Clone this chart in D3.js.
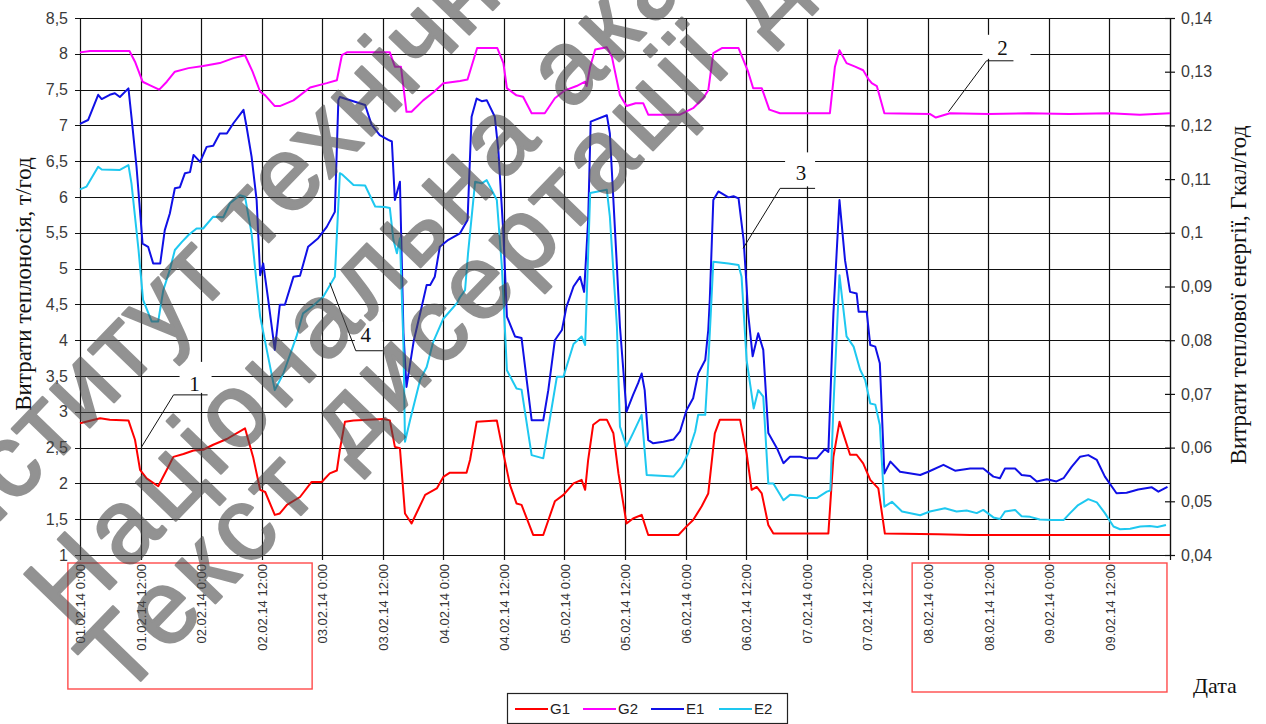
<!DOCTYPE html>
<html>
<head>
<meta charset="utf-8">
<script src="https://cdn.jsdelivr.net/npm/d3@7"></script>
<style>
  html, body { margin: 0; padding: 0; background: #fff; }
  svg { display: block; }
</style>
</head>
<body>
<script>
// Hourly readings, hour = hours since 01.02.14 0:00
// G1, G2 — coolant flow, т/год (left axis); E1, E2 — heat energy, Гкал/год (right axis)
const g1Data = [[0,2.84],[4.0,2.91],[5.9,2.89],[9.6,2.88],[10.9,2.61],[11.9,2.19],[13.2,2.07],[15.5,1.96],[17.2,2.19],[18.5,2.37],[20.5,2.41],[22.5,2.46],[24.4,2.47],[26.4,2.54],[29.1,2.62],[32.7,2.77],[34.3,2.37],[35.7,1.91],[36.7,1.88],[38.6,1.56],[39.6,1.58],[41.0,1.70],[43.6,1.81],[45.9,2.02],[47.9,2.02],[49.5,2.14],[50.9,2.18],[51.5,2.47],[52.5,2.86],[54.2,2.88],[60.1,2.90],[61.4,2.88],[62.4,2.51],[63.4,2.49],[64.4,1.58],[65.7,1.44],[68.4,1.84],[70.7,1.93],[72.0,2.09],[73.3,2.15],[76.6,2.15],[77.3,2.33],[78.6,2.86],[82.6,2.88],[83.9,2.42],[85.2,1.98],[86.5,1.72],[87.5,1.70],[89.8,1.28],[91.8,1.28],[94.1,1.75],[95.8,1.84],[97.8,2.00],[99.4,2.05],[100.1,1.91],[100.7,2.33],[101.7,2.82],[103.0,2.89],[104.4,2.89],[105.7,2.70],[106.7,2.14],[108.3,1.44],[109.6,1.51],[111.3,1.56],[112.6,1.28],[118.6,1.28],[120.2,1.40],[121.5,1.49],[123.2,1.68],[124.5,1.86],[125.8,2.70],[126.8,2.89],[130.8,2.89],[132.1,2.42],[133.1,1.91],[134.1,1.95],[135.1,1.86],[136.4,1.42],[137.4,1.30],[148.3,1.30],[149.3,2.37],[150.5,2.86],[152.6,2.40],[153.9,2.40],[155.2,2.28],[156.6,2.05],[158.2,1.93],[159.5,1.30],[170,1.29],[176.4,1.28],[216,1.28]];

const g2Data = [[0,8.02],[2.0,8.04],[9.8,8.04],[10.9,7.89],[12.4,7.61],[13.9,7.56],[15.7,7.50],[17.2,7.61],[18.8,7.75],[21.5,7.80],[24.4,7.83],[27.7,7.87],[30.4,7.94],[32.7,7.98],[34.2,7.75],[35.7,7.47],[36.7,7.42],[38.6,7.27],[39.6,7.27],[42.3,7.35],[45.6,7.53],[48.9,7.59],[50.9,7.63],[51.9,7.98],[52.9,8.02],[61.4,8.02],[62.4,7.82],[63.6,7.82],[64.7,7.19],[65.7,7.19],[68.0,7.35],[70.0,7.46],[72.0,7.59],[75.3,7.62],[76.8,7.64],[78.7,8.08],[82.7,8.08],[83.9,7.87],[84.6,7.52],[86.5,7.42],[87.8,7.40],[89.5,7.17],[92.1,7.17],[94.1,7.38],[96.1,7.49],[98.4,7.55],[100.1,7.61],[100.4,7.55],[101.1,7.82],[102.1,8.06],[104.4,8.09],[105.4,7.96],[107.0,7.42],[108.3,7.27],[110.1,7.31],[111.6,7.31],[112.6,7.15],[118.9,7.15],[121.5,7.24],[123.5,7.38],[124.5,7.49],[125.5,8.01],[127.2,8.08],[130.5,8.08],[132.4,7.75],[133.4,7.52],[135.1,7.52],[136.6,7.22],[138.7,7.17],[148.6,7.17],[149.6,7.82],[150.5,8.05],[151.9,7.87],[153.6,7.82],[155.2,7.77],[156.2,7.65],[156.9,7.59],[157.9,7.55],[159.4,7.17],[168.4,7.16],[169.6,7.11],[172.4,7.17],[180,7.16],[188,7.17],[196,7.16],[204,7.17],[210,7.15],[216,7.17]];

const e1Data = [[0,0.1203],[1.6,0.1210],[3.6,0.1257],[4.3,0.1249],[5.9,0.1257],[6.9,0.1260],[7.9,0.1253],[9.6,0.1269],[10.2,0.1216],[11.2,0.1123],[12.4,0.0980],[13.5,0.0974],[14.5,0.0943],[15.9,0.0943],[16.8,0.1005],[17.8,0.1036],[18.8,0.1083],[19.8,0.1085],[20.8,0.1111],[21.8,0.1113],[22.5,0.1145],[23.8,0.1132],[25.1,0.1160],[26.4,0.1162],[27.7,0.1185],[29.1,0.1185],[30.4,0.1204],[32.4,0.1229],[33.0,0.1198],[34.0,0.1142],[35.0,0.1061],[35.7,0.0921],[36.3,0.0943],[37.3,0.0875],[38.6,0.0782],[39.6,0.0866],[40.6,0.0866],[42.3,0.0918],[43.6,0.0920],[45.2,0.0974],[47.2,0.0990],[48.9,0.1011],[50.5,0.1039],[51.2,0.1247],[51.5,0.1253],[56.5,0.1238],[57.8,0.1201],[59.4,0.1182],[61.1,0.1173],[61.8,0.1170],[62.4,0.1061],[63.4,0.1095],[64.1,0.0813],[64.7,0.0713],[66.1,0.0797],[67.7,0.0862],[68.7,0.0903],[69.4,0.0903],[70.3,0.0918],[71.3,0.0974],[73.0,0.0987],[75.3,0.0999],[76.8,0.1024],[77.6,0.1216],[78.6,0.1250],[79.6,0.1245],[80.6,0.1247],[82.2,0.1216],[82.9,0.1154],[83.9,0.0999],[84.6,0.0844],[86.2,0.0807],[87.5,0.0804],[89.5,0.0651],[91.8,0.0651],[92.8,0.0707],[94.1,0.0800],[95.5,0.0819],[96.4,0.0862],[97.8,0.0900],[99.1,0.0918],[99.9,0.0890],[100.7,0.1024],[101.2,0.1207],[104.4,0.1219],[105.0,0.1185],[105.7,0.1061],[106.4,0.0937],[107.0,0.0825],[108.3,0.0667],[109.6,0.0698],[110.6,0.0720],[111.3,0.0738],[111.9,0.0707],[112.6,0.0614],[113.6,0.0608],[115.6,0.0611],[117.6,0.0615],[118.9,0.0630],[120.2,0.0670],[121.5,0.0692],[122.5,0.0738],[123.9,0.0763],[124.5,0.0819],[124.8,0.0875],[125.5,0.1061],[126.5,0.1077],[128.5,0.1066],[129.5,0.1068],[130.5,0.1064],[131.5,0.0987],[132.1,0.0900],[132.4,0.0850],[133.3,0.0770],[134.4,0.0813],[135.4,0.0782],[136.4,0.0627],[138.1,0.0599],[139.4,0.0571],[140.7,0.0583],[142.7,0.0583],[144.0,0.0580],[146.0,0.0580],[147.6,0.0597],[148.3,0.0592],[149.3,0.0850],[150.5,0.1061],[151.6,0.0949],[152.6,0.0890],[153.9,0.0887],[154.3,0.0853],[155.9,0.0853],[156.6,0.0791],[157.6,0.0788],[158.5,0.0757],[159.4,0.0552],[160.6,0.0574],[162.5,0.0555],[166.5,0.0549],[168.1,0.0555],[171.1,0.0568],[173.4,0.0557],[176.4,0.0561],[179.0,0.0561],[181.0,0.0546],[182.3,0.0543],[183.3,0.0561],[185.3,0.0561],[186.6,0.0549],[188.3,0.0547],[189.6,0.0537],[191.6,0.0541],[193.5,0.0537],[194.9,0.0543],[196.5,0.0564],[198.2,0.0583],[199.8,0.0586],[201.5,0.0577],[203.1,0.0546],[205.4,0.0515],[207.4,0.0516],[209.7,0.0522],[212.4,0.0526],[213.7,0.0518],[215.5,0.0527]];

const e2Data = [[0,0.1081],[1.3,0.1086],[3.6,0.1123],[4.3,0.1118],[7.9,0.1117],[9.6,0.1126],[10.2,0.1092],[11.6,0.0968],[12.5,0.0875],[14.2,0.0835],[15.5,0.0835],[16.5,0.0893],[17.8,0.0931],[18.8,0.0968],[20.2,0.0983],[21.5,0.0996],[23.1,0.1008],[24.4,0.1008],[26.4,0.1030],[28.4,0.1029],[29.7,0.1055],[31.7,0.1070],[32.7,0.1067],[34.0,0.0999],[35.0,0.0906],[35.7,0.0844],[38.6,0.0707],[40.3,0.0738],[42.9,0.0807],[44.2,0.0850],[45.9,0.0862],[48.2,0.0881],[50.5,0.0918],[51.5,0.1111],[51.9,0.1109],[54.2,0.1089],[56.5,0.1088],[58.5,0.1049],[60.4,0.1048],[61.4,0.1046],[62.1,0.0987],[62.8,0.0962],[63.4,0.0990],[64.1,0.0790],[64.4,0.0611],[65.4,0.0651],[67.4,0.0726],[68.7,0.0750],[70.0,0.0797],[72.0,0.0840],[74.7,0.0869],[75.3,0.0880],[76.3,0.0893],[76.9,0.0962],[78.3,0.1095],[79.6,0.1092],[80.6,0.1098],[82.6,0.1061],[83.6,0.0937],[84.6,0.0744],[86.5,0.0710],[87.5,0.0708],[89.5,0.0586],[91.8,0.0580],[94.5,0.0732],[95.8,0.0732],[97.8,0.0793],[99.4,0.0807],[100.1,0.0791],[101.1,0.1074],[104.4,0.1080],[105.0,0.1030],[106.4,0.0825],[107.0,0.0639],[108.3,0.0602],[109.6,0.0627],[111.3,0.0661],[112.3,0.0549],[117.6,0.0546],[119.2,0.0564],[120.5,0.0589],[121.9,0.0630],[122.5,0.0661],[123.9,0.0661],[124.5,0.0757],[125.0,0.0850],[125.5,0.0946],[128.5,0.0943],[130.5,0.0940],[131.1,0.0918],[132.1,0.0763],[133.5,0.0673],[134.4,0.0707],[135.4,0.0695],[136.4,0.0533],[137.4,0.0533],[139.4,0.0502],[140.7,0.0512],[142.7,0.0511],[144.3,0.0506],[146.0,0.0506],[148.0,0.0518],[148.7,0.0520],[149.3,0.0676],[150.5,0.0921],[151.9,0.0807],[153.3,0.0788],[154.6,0.0745],[155.6,0.0726],[156.6,0.0682],[157.6,0.0680],[158.5,0.0642],[159.4,0.0490],[160.9,0.0499],[162.9,0.0481],[166.5,0.0474],[168.4,0.0481],[171.4,0.0487],[173.7,0.0481],[175.7,0.0483],[177.7,0.0478],[179.0,0.0484],[181.0,0.0470],[182.3,0.0467],[183.3,0.0481],[185.3,0.0484],[186.6,0.0472],[188.3,0.0471],[190.2,0.0466],[192.6,0.0465],[194.9,0.0465],[196.2,0.0478],[197.8,0.0493],[199.8,0.0504],[201.5,0.0498],[203.1,0.0478],[204.8,0.0453],[206.1,0.0448],[208.1,0.0449],[210.1,0.0453],[212.0,0.0454],[213.5,0.0452],[215.2,0.0456]];

// Axis ticks and labels
const hourTicks = [0,12,24,36,48,60,72,84,96,108,120,132,144,156,168,180,192,204,216];
const dateLabels = ["01.02.14 0:00","01.02.14 12:00","02.02.14 0:00","02.02.14 12:00","03.02.14 0:00","03.02.14 12:00","04.02.14 0:00","04.02.14 12:00","05.02.14 0:00","05.02.14 12:00","06.02.14 0:00","06.02.14 12:00","07.02.14 0:00","07.02.14 12:00","08.02.14 0:00","08.02.14 12:00","09.02.14 0:00","09.02.14 12:00"];
const flowTicks = [1,1.5,2,2.5,3,3.5,4,4.5,5,5.5,6,6.5,7,7.5,8,8.5];
const energyTicks = [0.04,0.05,0.06,0.07,0.08,0.09,0.1,0.11,0.12,0.13,0.14];

const seriesNames = ["G1","G2","E1","E2"];
const seriesColors = ["#ff0000","#ff00ff","#1010e6","#1ec8f0"];

// Numbered callouts: series, hour and value the leader points to
const callouts = [
  {label:"1", series:0, hour:12.2, value:2.51},
  {label:"2", series:1, hour:172.1, value:7.19},
  {label:"3", series:2, hour:131.4, value:0.0971},
  {label:"4", series:3, hour:49.5, value:0.0907}
];

const watermarkLines = [
  "Інститут технічної теплофізики НАН України",
  "Національна академія наук України",
  "Текст дисертації для ознайомлення"
];

const W = 1266, H = 724;
const margin = {left: 80, right: 96, top: 18, bottom: 169};
const plotW = W - margin.left - margin.right;   // 1090
const plotH = H - margin.top - margin.bottom;   // 537

const x = d3.scaleLinear().domain([0, 216]).range([margin.left, margin.left + plotW]);
const yL = d3.scaleLinear().domain([1, 8.5]).range([margin.top + plotH, margin.top]);
const yR = d3.scaleLinear().domain([0.04, 0.14]).range([margin.top + plotH, margin.top]);
const fmt = d => String(+d.toFixed(3)).replace(".", ",");

const svg = d3.select("body").append("svg").attr("width", W).attr("height", H);

// Grid
const grid = svg.append("g").attr("stroke", "#111").attr("stroke-width", 1.2);
grid.selectAll("line.h").data(flowTicks).join("line")
  .attr("x1", margin.left - 5).attr("x2", margin.left + plotW)
  .attr("y1", d => Math.round(yL(d)) + 0.5).attr("y2", d => Math.round(yL(d)) + 0.5);
grid.selectAll("line.v").data(hourTicks).join("line")
  .attr("x1", d => Math.round(x(d)) + 0.5).attr("x2", d => Math.round(x(d)) + 0.5)
  .attr("y1", margin.top).attr("y2", margin.top + plotH + 5);

// Left axis labels
const leftAxis = svg.append("g").attr("transform", `translate(${margin.left},0)`)
  .call(d3.axisLeft(yL).tickValues(flowTicks).tickFormat(fmt).tickSize(5).tickPadding(7));
leftAxis.select(".domain").remove();
leftAxis.selectAll("line").remove();
leftAxis.selectAll("text").attr("font-family", "Liberation Sans, Arial, sans-serif")
  .attr("font-size", 16).attr("fill", "#3a3a3a");

// Right axis with ticks crossing the line
const rightAxis = svg.append("g").attr("transform", `translate(${margin.left + plotW},0)`)
  .call(d3.axisRight(yR).tickValues(energyTicks).tickFormat(fmt).tickSize(5).tickSizeOuter(0).tickPadding(6));
rightAxis.select(".domain").attr("stroke", "#111").attr("stroke-width", 1.2);
rightAxis.selectAll(".tick line").attr("x1", -5).attr("stroke", "#111").attr("stroke-width", 1.2);
rightAxis.selectAll("text").attr("font-family", "Liberation Sans, Arial, sans-serif")
  .attr("font-size", 16).attr("fill", "#3a3a3a");

// Bottom axis with vertical date labels
const bottomAxis = svg.append("g").attr("transform", `translate(0,${margin.top + plotH})`)
  .call(d3.axisBottom(x).tickValues(hourTicks).tickSize(0).tickFormat((d, i) => dateLabels[i] || ""));
bottomAxis.select(".domain").remove();
bottomAxis.selectAll("text")
  .attr("transform", "rotate(-90)")
  .attr("x", -9).attr("y", 0).attr("dy", "0.36em")
  .attr("text-anchor", "end")
  .attr("font-family", "Liberation Sans, Arial, sans-serif")
  .attr("font-size", 13).attr("fill", "#333");

// Red frames around the first and last date labels
const frames = svg.append("g").attr("fill", "none").attr("stroke", "#ff4a4a").attr("stroke-width", 1.4);
frames.append("rect").attr("x", x(-2.4)).attr("y", 563).attr("width", x(46.0) - x(-2.4)).attr("height", 126);
frames.append("rect").attr("x", x(164.9)).attr("y", 563).attr("width", x(215.4) - x(164.9)).attr("height", 129);

// Series lines
const lineL = d3.line().x(d => x(d[0])).y(d => yL(d[1]));
const lineR = d3.line().x(d => x(d[0])).y(d => yR(d[1]));
const seriesData = [g1Data, g2Data, e1Data, e2Data];
const seriesLine = [lineL, lineL, lineR, lineR];
const plot = svg.append("g");
seriesData.forEach((data, i) => {
  plot.append("path").datum(data)
    .attr("fill", "none").attr("stroke", seriesColors[i]).attr("stroke-width", 2)
    .attr("stroke-linejoin", "round").attr("d", seriesLine[i]);
});

// Callouts: white label patch, elbow leader, number
const calloutGeom = [
  {elbow:[32, -52], run:34, box:[38, -85, 32, 31], text:[53, -56]},
  {elbow:[38, -51], run:27, box:[34, -77, 48, 24], text:[54, -57]},
  {elbow:[37, -60], run:35, box:[42, -96, 30, 34], text:[58, -68]},
  {elbow:[26, 68], run:27, box:[25, 39, 28, 28], text:[36, 59]}
];
const ann = svg.append("g");
callouts.forEach((c, i) => {
  const ax = x(c.hour);
  const ay = c.series < 2 ? yL(c.value) : yR(c.value);
  const g = calloutGeom[i];
  const ex = ax + g.elbow[0], ey = ay + g.elbow[1];
  ann.append("rect").attr("x", ax + g.box[0]).attr("y", ay + g.box[1])
    .attr("width", g.box[2]).attr("height", g.box[3]).attr("fill", "#fff");
  ann.append("path").attr("fill", "none").attr("stroke", "#111").attr("stroke-width", 1)
    .attr("d", `M${ax},${ay}L${ex},${ey}L${ex + g.run},${ey}`);
  ann.append("text").attr("x", ax + g.text[0]).attr("y", ay + g.text[1])
    .attr("text-anchor", "middle").attr("font-family", "Liberation Serif, Times New Roman, serif")
    .attr("font-size", 21).attr("fill", "#111").text(c.label);
});

// Axis titles
svg.append("text").attr("transform", "translate(31,284) rotate(-90)")
  .attr("text-anchor", "middle").attr("font-family", "Liberation Serif, Times New Roman, serif")
  .attr("font-size", 23).attr("fill", "#111").text("Витрати теплоносія, т/год");
svg.append("text").attr("transform", "translate(1246,295) rotate(-90)")
  .attr("text-anchor", "middle").attr("font-family", "Liberation Serif, Times New Roman, serif")
  .attr("font-size", 23).attr("fill", "#111").text("Витрати теплової енергії, Гкал/год");
svg.append("text").attr("x", 1193).attr("y", 693)
  .attr("font-family", "Liberation Serif, Times New Roman, serif")
  .attr("font-size", 22).attr("fill", "#111").text("Дата");

// Legend
const legend = svg.append("g").attr("transform", "translate(507,693)");
legend.append("rect").attr("x", 0.5).attr("y", 0.5).attr("width", 280).attr("height", 30)
  .attr("fill", "#fff").attr("stroke", "#222").attr("stroke-width", 1.2);
const items = legend.selectAll("g.item").data(seriesNames).join("g")
  .attr("transform", (d, i) => `translate(${8 + i * 68},16)`);
items.append("line").attr("x1", 0).attr("x2", 33).attr("y1", 0).attr("y2", 0)
  .attr("stroke", (d, i) => seriesColors[i]).attr("stroke-width", 2);
items.append("text").attr("x", 35).attr("y", 0).attr("dy", "0.36em")
  .attr("font-family", "Liberation Sans, Arial, sans-serif").attr("font-size", 15)
  .attr("fill", "#222").text(d => d);

// Watermark (semi-transparent, thickened glyphs)
const wmStarts = [[-50, 572], [70, 630], [122, 700]];
const wmSpacing = [2, 6, 6];
const wm = svg.append("g").attr("pointer-events", "none").attr("opacity", 0.6);
watermarkLines.forEach((t, i) => {
  wm.append("text")
    .attr("transform", `translate(${wmStarts[i][0]},${wmStarts[i][1]}) rotate(-46)`)
    .attr("font-family", "Liberation Sans, Arial, sans-serif")
    .attr("font-size", 104).attr("letter-spacing", wmSpacing[i])
    .attr("fill", "#4a4a4a").attr("stroke", "#4a4a4a").attr("stroke-width", 2.5)
    .attr("stroke-linejoin", "round")
    .text(t);
});
</script>
</body>
</html>
